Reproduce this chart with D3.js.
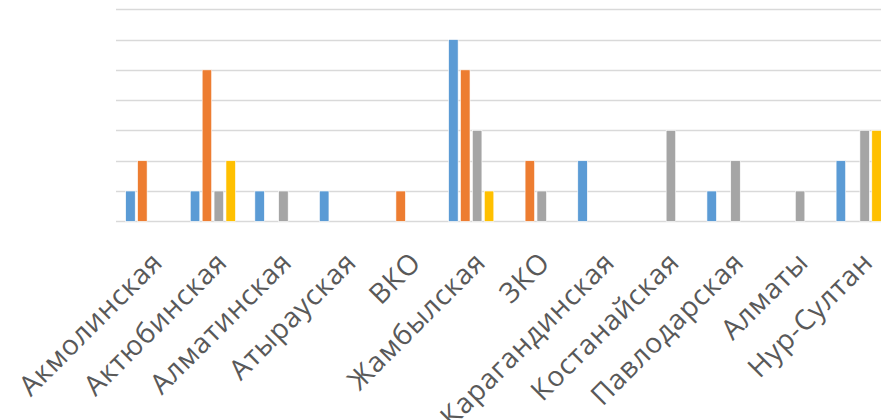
<!DOCTYPE html>
<html><head><meta charset="utf-8">
<script src="https://cdn.jsdelivr.net/npm/d3@7"></script>
<style>body{margin:0;background:#fff;overflow:hidden}svg{display:block}</style>
</head><body>
<svg id="c" width="881" height="420"></svg>
<script>
const categories = ["Акмолинская","Актюбинская","Алматинская","Атырауская","ВКО","Жамбылская","ЗКО","Карагандинская","Костанайская","Павлодарская","Алматы","Нур-Султан"];
const series1 = [1,1,1,1,0,6,0,2,0,1,0,2];
const series2 = [2,5,0,0,1,5,2,0,0,0,0,0];
const series3 = [0,1,1,0,0,3,1,0,3,2,1,3];
const series4 = [0,2,0,0,0,1,0,0,0,0,0,3];
const seriesColors = ["#5B9BD5","#ED7D31","#A5A5A5","#FFC000"];
const yTicks = [0,1,2,3,4,5,6,7];

const allSeries = [series1, series2, series3, series4];
const svg = d3.select("#c");
const x0 = d3.scaleBand().domain(categories).range([116, 891]).paddingInner(0.3).paddingOuter(0.15);
const x1 = d3.scaleBand().domain(d3.range(allSeries.length)).range([0, x0.bandwidth()]).paddingInner(0.2);
const y = d3.scaleLinear().domain([0,7]).range([221.3, 9.3]);

svg.append("g").selectAll("line").data(yTicks).join("line")
  .attr("x1",116).attr("x2",891)
  .attr("y1",d=>Math.round(y(d))+0.5).attr("y2",d=>Math.round(y(d))+0.5)
  .attr("stroke","#D9D9D9").attr("stroke-width",1.5);

const g = svg.append("g");
categories.forEach((c,i)=>{
  allSeries.forEach((s,j)=>{
    if(s[i]>0){
      g.append("rect")
        .attr("x", x0(c)+x1(j)).attr("width", x1.bandwidth())
        .attr("y", y(s[i])).attr("height", y(0)-y(s[i]))
        .attr("fill", seriesColors[j]).attr("stroke","#fff").attr("stroke-width",0.6);
    }
  });
});

svg.append("g").selectAll("text").data(categories).join("text")
  .attr("transform", d=>`translate(${x0(d)+x0.bandwidth()/2+16},264) rotate(-45)`)
  .attr("text-anchor","end")
  .attr("font-family","'Open Sans', sans-serif")
  .attr("font-size",28)
  .attr("letter-spacing",0.8)
  .attr("fill","#595959")
  .text(d=>d);
</script>
</body></html>
